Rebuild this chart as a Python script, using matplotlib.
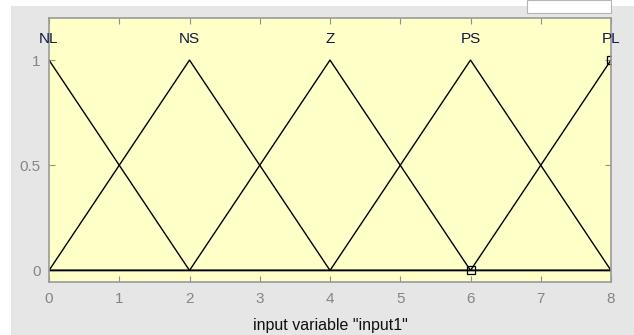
import matplotlib
matplotlib.use('Agg')
import matplotlib.pyplot as plt
from matplotlib.patches import Rectangle

# membership functions (triangles) drawn as polylines over [0, 8]
mf_names = ['NL', 'NS', 'Z', 'PS', 'PL']
mf_peaks = [0, 2, 4, 6, 8]
mf_x = [[0, 2, 8],
        [0, 2, 4, 8],
        [0, 2, 4, 6, 8],
        [0, 4, 6, 8],
        [0, 6, 8]]
mf_y = [[1, 0, 0],
        [0, 1, 0, 0],
        [0, 0, 1, 0, 0],
        [0, 0, 1, 0],
        [0, 0, 1]]
# vertices of the selected MF (PL)
sel_x = [6, 8]
sel_y = [0, 1]

xticks = [0, 1, 2, 3, 4, 5, 6, 7, 8]
yticks = [0, 0.5, 1]
yticklabels = ['0', '0.5', '1']

W, H = 634, 335
fig = plt.figure(figsize=(W/100, H/100), dpi=100, facecolor='white')

# grey panel background + small white box at top right
fig.patches.append(Rectangle((11/W, 0), 1 - 11/W, 1 - 6/H, transform=fig.transFigure,
                             facecolor='#e6e6e6', edgecolor='none', zorder=-10))
fig.patches.append(Rectangle((527/W, 1 - 13/H), 84/W, 13/H, transform=fig.transFigure,
                             facecolor='white', edgecolor='#b4b4b4', lw=0.8, zorder=-5))

ax = fig.add_axes([49/W, 1 - 282/H, 562/W, 264/H])
ax.set_facecolor('#ffffc8')

for xs, ys in zip(mf_x, mf_y):
    ax.plot(xs, ys, color='black', lw=1.0)

ax.plot(sel_x, sel_y, ls='none', marker='s', ms=6, mfc='none', mec='black', mew=0.9)

for name, px in zip(mf_names, mf_peaks):
    ax.text(px, 1.1, name, ha='center', va='center', fontsize=11,
            color='#101840', family='Liberation Sans', clip_on=False)

ax.set_xlim(0, 8)
ax.set_ylim(-0.055, 1.2)
ax.set_xticks(xticks)
ax.set_yticks(yticks)
ax.set_yticklabels(yticklabels)
ax.tick_params(direction='in', length=4, width=0.8, color='#909090',
               labelcolor='#858585', labelsize=11, top=True, right=True)
ax.tick_params(axis='x', pad=7)
ax.tick_params(axis='y', pad=6)
for lab in ax.get_xticklabels() + ax.get_yticklabels():
    lab.set_family('Liberation Sans')
for sp in ax.spines.values():
    sp.set_color('#9a9a9a')
    sp.set_linewidth(1.2)

ax.set_xlabel('input variable "input1"', fontsize=11.5, family='Liberation Sans',
              color='#101010', labelpad=9)

fig.savefig('out.png', dpi=100, facecolor=fig.get_facecolor())
